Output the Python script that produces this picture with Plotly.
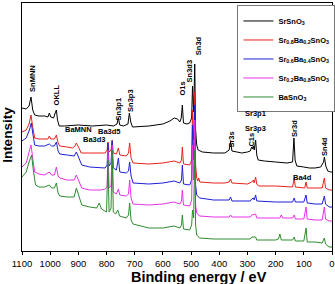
import plotly.graph_objects as go

# ---------------- data (binding energy in eV, intensity in a.u.) ----------------
energy_srsno3 = [1100,1085,1075,1068,1062,1055,1040,1020,1008,1003,998,988,981,978,974,968,950,900,850,800,775,763,758,753,740,724,719,714,708,650,600,575,560,548,540,535,531,527,515,505,498,495,491,487,484,480,475,460,420,380,365,360,355,320,300,290,285,282,279,276,271,267,262,240,200,160,140,135,131,125,100,80,60,40,30,27,22,15,5,0]
int_srsno3 = [143,142,145,154,141,136,135,135,134,138,134,133,139,141,131,125,125,126,125,126,125,127,133,126,125,127,138,129,124,125,127,130,133,132,129,133,146,128,127,128,133,165,139,187,121,106,101,99,98,98,101,109,100,98,99,100,104,102,105,101,111,96,91,90,89,88,89,113,91,85,84,83,83,84,89,94,85,80,79,79]

energy_sr08 = [1100,1085,1075,1068,1062,1055,1040,1020,1008,1003,998,985,978,972,966,940,920,912,907,898,890,860,820,805,798,795,791,784,780,776,765,758,753,730,722,718,713,706,650,600,560,540,534,531,527,505,498,495,491,487,484,480,476,473,469,420,380,365,360,355,300,290,285,279,276,271,267,260,200,140,134,130,110,97,92,88,60,35,27,23,10,0]
int_sr08 = [119,121,127,136,124,113,112,112,112,115,112,112,116,108,105,104,103,105,108,103,98,98,98,98,101,109,99,101,111,98,97,103,96,95,98,108,93,88,87,88,90,88,91,104,87,86,91,141,111,159,86,73,70,73,69,68,68,69,72,68,67,68,69,71,68,74,67,65,65,64,73,64,63,63,69,63,63,63,73,63,61,61]

energy_sr06 = [1100,1085,1075,1067,1062,1055,1040,1020,1003,995,985,978,972,966,940,915,907,898,888,860,820,805,798,795,791,784,780,776,765,758,753,730,722,718,713,706,650,600,560,540,534,531,527,505,498,495,491,487,484,480,470,420,365,360,355,290,285,279,276,271,267,200,140,134,130,100,92,88,60,35,27,23,10,0]
int_sr06 = [110,113,120,128,118,106,105,105,107,105,105,109,100,97,96,95,99,93,86,84,83,83,86,108,85,88,110,83,81,93,79,78,80,89,75,68,67,68,70,68,71,86,67,66,71,126,91,146,66,56,53,51,51,54,50,50,52,53,51,56,50,49,49,53,49,49,56,48,47,47,55,47,44,44]

energy_sr02 = [1100,1085,1075,1068,1062,1055,1040,1020,1003,995,985,978,972,966,940,915,907,898,888,860,820,805,798,795,791,784,780,776,765,758,753,730,722,718,713,706,650,600,560,540,534,531,527,505,498,495,491,487,484,480,470,420,365,360,355,290,285,271,267,200,185,180,175,140,134,130,100,92,88,60,35,27,23,10,0]
int_sr02 = [84,88,99,106,93,79,77,76,79,76,76,84,75,73,71,71,76,69,63,61,61,62,64,101,63,65,106,59,57,62,56,55,57,71,53,47,46,47,49,47,50,61,46,45,51,106,71,131,46,38,35,34,34,36,34,34,36,37,33,33,33,36,33,33,36,32,32,44,32,31,31,44,32,30,30]

energy_basno3 = [1100,1085,1075,1066,1060,1052,1040,1020,1003,995,985,978,972,966,940,915,907,898,888,860,835,826,818,800,795,791,784,780,776,768,760,754,730,722,718,713,706,650,600,560,540,534,531,527,505,498,495,491,487,484,480,470,420,365,290,285,271,267,200,190,185,180,140,134,130,100,92,88,60,35,27,23,10,0]
int_basno3 = [74,79,89,96,81,66,64,64,66,63,63,68,58,55,54,54,63,54,46,44,43,48,42,39,91,39,43,101,39,37,41,35,33,36,48,31,27,23,23,25,23,26,36,22,21,26,41,33,101,26,16,13,12,12,12,14,14,11,11,12,17,11,11,14,10,10,23,9,9,8,13,7,4,4]

series_names = ["SrSnO<sub>3</sub>",
                "Sr<sub>0.8</sub>Ba<sub>0.2</sub>SnO<sub>3</sub>",
                "Sr<sub>0.6</sub>Ba<sub>0.4</sub>SnO<sub>3</sub>",
                "Sr<sub>0.2</sub>Ba<sub>0.8</sub>SnO<sub>3</sub>",
                "BaSnO<sub>3</sub>"]
series_colors = ["#000000", "#e8221c", "#1f1fd6", "#e632e6", "#2e8b2e"]

peak_labels = ["SnMNN", "OKLL", "BaMNN", "Ba3d5", "Ba3d3", "Sn3p1", "Sn3p3", "O1s",
               "Sn3d3", "Sn3d", "Sr3p1", "Sr3p3", "Sr3s", "C1s", "Sr3d", "Sn4d", "Ba4d"]

FONT = "Liberation Sans, Arial, sans-serif"

# ---------------- figure ----------------
fig = go.Figure()
series = [(energy_srsno3, int_srsno3), (energy_sr08, int_sr08), (energy_sr06, int_sr06),
          (energy_sr02, int_sr02), (energy_basno3, int_basno3)]
for (e, i), name, col in zip(series, series_names, series_colors):
    assert len(e) == len(i), name
    fig.add_trace(go.Scatter(x=e, y=i, mode="lines", name="<b>" + name + "</b>",
                             line=dict(color=col, width=1)))

# label placement: (x, y, rotated?)
label_pos = {
    "SnMNN": (1063, 172.5, True), "OKLL": (978, 156, True), "BaMNN": (898, 122, False),
    "Ba3d5": (788, 120, False), "Ba3d3": (841, 112, False), "Sn3p1": (758, 142, True),
    "Sn3p3": (717, 151, True), "O1s": (534, 162, True), "Sn3d3": (506, 180, True),
    "Sn3d": (475, 205, True), "Sr3p1": (270, 138, False), "Sr3p3": (270, 123, False),
    "Sr3s": (360, 111, True), "C1s": (289, 111, True), "Sr3d": (135, 123, True),
    "Sn4d": (27, 104.5, True), "Ba4d": (103, 74, False),
}
for lab in peak_labels:
    x, y, rot = label_pos[lab]
    fig.add_annotation(x=x, y=y, xref="x", yref="y", text="<b>" + lab + "</b>",
                       showarrow=False, textangle=-90 if rot else 0,
                       font=dict(size=7.5, color="#000000", family=FONT),
                       xanchor="center", yanchor="middle")

fig.add_annotation(x=0.571, y=-0.105, xref="paper", yref="paper", text="<b>Binding energy / eV</b>",
                   showarrow=False, font=dict(size=14.5, family=FONT, color="#000"),
                   xanchor="center", yanchor="middle")
fig.add_annotation(x=-0.047, y=0.47, xref="paper", yref="paper", text="<b>Intensity</b>",
                   showarrow=False, textangle=-90,
                   font=dict(size=13.5, family=FONT, color="#000"),
                   xanchor="center", yanchor="middle")

fig.update_layout(
    width=335, height=284,
    margin=dict(l=22, r=3, t=3, b=33, autoexpand=False),
    paper_bgcolor="white", plot_bgcolor="white",
    font=dict(family=FONT, color="#000"),
    showlegend=True,
    legend=dict(x=0.695, y=0.99, xanchor="left", yanchor="top",
                bgcolor="white", bordercolor="#777", borderwidth=1,
                font=dict(size=7.5, family=FONT, color="#000"),
                itemwidth=30, tracegroupgap=0),
)
fig.update_xaxes(range=[1100, 0], dtick=100, tick0=0, ticks="outside", ticklen=3,
                 tickwidth=1, tickcolor="#000", showline=True, linecolor="#000", linewidth=1.2,
                 mirror=True, showgrid=False, zeroline=False,
                 tickfont=dict(size=9.5, family=FONT, color="#000"))
fig.update_yaxes(range=[0, 248], showticklabels=False, ticks="", showline=True,
                 linecolor="#000", linewidth=1.2, mirror=True, showgrid=False, zeroline=False)

fig.write_html("out.html", config={"displayModeBar": False},
               post_script="document.body.style.margin='0px';document.body.style.padding='0px';")
